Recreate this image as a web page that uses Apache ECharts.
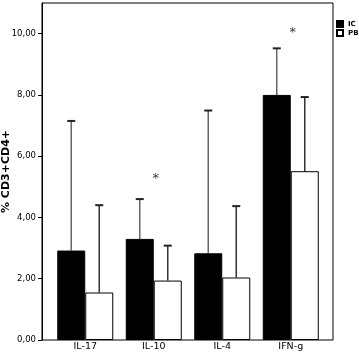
<!DOCTYPE html>
<html>
<head>
<meta charset="utf-8">
<script src="https://cdn.jsdelivr.net/npm/echarts@6/dist/echarts.min.js"></script>
<style>
  html, body { margin: 0; padding: 0; background: #fff; }
  #chart_container { width: 359px; height: 353px; }
</style>
</head>
<body>
<div id="chart_container"></div>
<script>
// bar chart with upper error bars, IC vs PB

var categories = ['IL-17', 'IL-10', 'IL-4', 'IFN-g'];
var icMean   = [2.92, 3.30, 2.83, 8.00];
var icErrTop = [7.15, 4.60, 7.49, 9.52];
var pbMean   = [1.55, 1.94, 2.04, 5.51];
var pbErrTop = [4.40, 3.08, 4.37, 7.93];
// significance marks: [category index, height]
var stars    = [[1, 5.35], [3, 10.13]];
var yTicks   = [0, 2, 4, 6, 8, 10];

var font = 'DejaVu Sans';
var barW = 28;

var chartDom = document.getElementById('chart_container');
var myChart = echarts.init(chartDom);

// error bar data: [catIdx, mean, top, side]  side -1 = IC, +1 = PB
var errData = [];
for (let i = 0; i < categories.length; i++) {
    errData.push([i, icMean[i], icErrTop[i], -1]);
    errData.push([i, pbMean[i], pbErrTop[i], 1]);
}

function renderErr(params, api) {
    let idx  = api.value(0);
    let side = api.value(3);
    let p0 = api.coord([idx, api.value(1)]);
    let p1 = api.coord([idx, api.value(2)]);
    let x = p0[0] + side * barW / 2;
    let col = side < 0 ? '#666' : '#333';
    return {
        type: 'group',
        children: [
            { type: 'line', shape: { x1: x, y1: p0[1], x2: x, y2: p1[1] },
              style: { stroke: col, lineWidth: 1.5 } },
            { type: 'line', shape: { x1: x - 4, y1: p1[1], x2: x + 4, y2: p1[1] },
              style: { stroke: '#222', lineWidth: 2 } }
        ]
    };
}

var opt = {
    animation: false,
    textStyle: { fontFamily: font },
    grid: [
        // frame
        { left: 42, right: 26, top: 3, bottom: 13, show: true, outerBoundsMode: 'none',
          borderColor: '#000', borderWidth: 1, backgroundColor: '#fff' },
        // bars
        { left: 51, right: 34, top: 3, bottom: 13, outerBoundsMode: 'none' }
    ],
    xAxis: [
        { gridIndex: 0, type: 'value', min: 0, max: 1, show: false },
        {
            gridIndex: 1, type: 'category', data: categories,
            axisLine: { show: false },
            axisTick: { show: false },
            axisLabel: { fontSize: 9.5, color: '#000', margin: 2, fontFamily: font }
        }
    ],
    yAxis: [
        {
            gridIndex: 0, type: 'value', min: 0, max: 11, interval: 2,
            splitLine: { show: false },
            axisLine: { show: true, lineStyle: { color: '#000', width: 1 } },
            axisTick: { show: true, length: 4, customValues: yTicks,
                        lineStyle: { color: '#000' } },
            axisLabel: {
                fontSize: 8.5, color: '#000', margin: 6, fontFamily: font,
                customValues: yTicks,
                formatter: function (v) { return v.toFixed(2).replace('.', ','); }
            },
            name: '% CD3+CD4+',
            nameLocation: 'middle',
            nameGap: 30,
            nameMoveOverlap: false,
            nameTextStyle: { fontSize: 11, fontWeight: 'bold', color: '#000', fontFamily: font }
        },
        { gridIndex: 1, type: 'value', min: 0, max: 11, show: false }
    ],
    legend: {
        orient: 'vertical',
        left: 336,
        top: 20,
        padding: 0,
        icon: 'rect',
        itemWidth: 6,
        itemHeight: 6,
        itemGap: 1,
        textStyle: { fontSize: 7, fontWeight: 'bold', color: '#000', fontFamily: font },
        data: ['IC', 'PB']
    },
    series: [
        {
            name: 'IC', type: 'bar', xAxisIndex: 1, yAxisIndex: 1,
            data: icMean, barWidth: barW, barGap: '0%',
            itemStyle: { color: '#000', borderColor: '#000', borderWidth: 1 }
        },
        {
            name: 'PB', type: 'bar', xAxisIndex: 1, yAxisIndex: 1,
            data: pbMean, barWidth: barW, barGap: '0%',
            itemStyle: { color: '#fff', borderColor: '#000', borderWidth: 1 }
        },
        {
            name: 'err', type: 'custom', xAxisIndex: 1, yAxisIndex: 1,
            data: errData, renderItem: renderErr, z: 1
        },
        {
            name: 'sig', type: 'scatter', xAxisIndex: 1, yAxisIndex: 1,
            data: stars, symbolSize: 0,
            label: { show: true, position: 'inside', formatter: '*',
                     fontSize: 13, color: '#000', offset: [2, 3], fontFamily: font }
        }
    ]
};

myChart.setOption(opt);
</script>
</body>
</html>
